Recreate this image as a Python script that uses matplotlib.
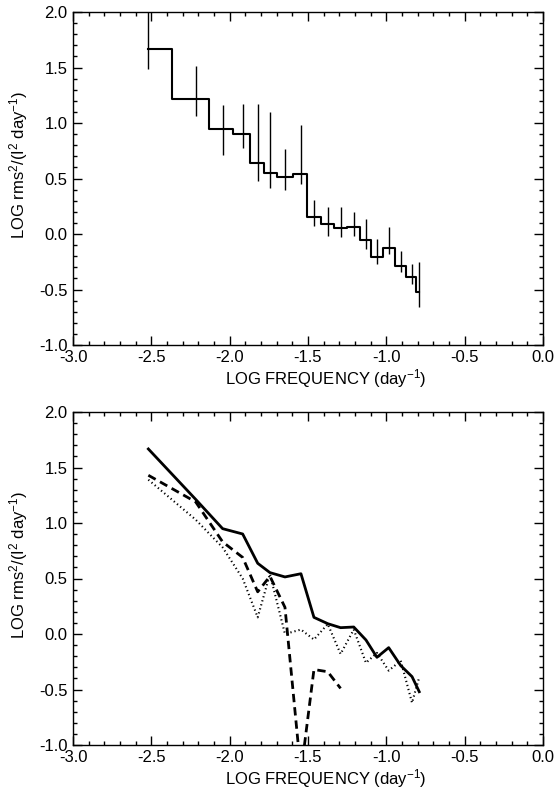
import matplotlib
matplotlib.use('Agg')
import matplotlib.pyplot as plt
from matplotlib.ticker import MultipleLocator
import numpy as np

plt.rcParams['font.family'] = ['Liberation Sans', 'DejaVu Sans']
plt.rcParams['mathtext.fontset'] = 'custom'
plt.rcParams['mathtext.rm'] = 'Liberation Sans'
plt.rcParams['mathtext.it'] = 'Liberation Sans:italic'
plt.rcParams['font.size'] = 12

# log frequency of each bin
log_f = [-2.519, -2.217, -2.045, -1.917, -1.821, -1.743, -1.647, -1.545, -1.462,
         -1.374, -1.292, -1.208, -1.130, -1.060, -0.985, -0.908, -0.836, -0.790]

# measured power (top panel step + bottom solid)
log_p = [1.667, 1.213, 0.949, 0.901, 0.637, 0.553, 0.514, 0.543, 0.150,
         0.093, 0.057, 0.063, -0.054, -0.210, -0.123, -0.285, -0.384, -0.520]
err_hi = [2.10, 1.516, 1.159, 1.168, 1.168, 1.099, 0.768, 0.985, 0.306,
          0.240, 0.240, 0.195, 0.132, -0.048, 0.066, -0.156, -0.267, -0.255]
err_lo = [1.49, 1.063, 0.712, 0.772, 0.480, 0.417, 0.396, 0.448, 0.072,
          -0.015, -0.024, -0.018, -0.135, -0.273, -0.183, -0.342, -0.448, -0.658]

# model curves (bottom panel)
log_p_dash = [1.43, 1.19, 0.83, 0.69, 0.38, 0.52, 0.24, -1.25, -0.32, -0.34, -0.49]
log_p_dot = [1.39, 1.03, 0.78, 0.50, 0.15, 0.54, 0.00, 0.04, -0.05, 0.09, -0.18,
             0.04, -0.26, -0.17, -0.33, -0.24, -0.62, -0.39]

xlab = 'LOG FREQUENCY (day$^{-1}$)'
ylab = 'LOG rms$^2$/(I$^2$ day$^{-1}$)'

fig = plt.figure(figsize=(5.59, 7.89), dpi=100)
W, H = 559, 789
ax1 = fig.add_axes([73 / W, 1 - 345 / H, 470 / W, 333 / H])
ax2 = fig.add_axes([73 / W, 1 - 745 / H, 470 / W, 333 / H])


def style(ax):
    ax.set_xlim(-3.0, 0.0)
    ax.set_ylim(-1.0, 2.0)
    ax.xaxis.set_major_locator(MultipleLocator(0.5))
    ax.xaxis.set_minor_locator(MultipleLocator(0.1))
    ax.yaxis.set_major_locator(MultipleLocator(0.5))
    ax.yaxis.set_minor_locator(MultipleLocator(0.1))
    ax.xaxis.set_major_formatter(plt.FormatStrFormatter('%.1f'))
    ax.yaxis.set_major_formatter(plt.FormatStrFormatter('%.1f'))
    ax.tick_params(which='both', direction='in', top=True, right=True, width=1)
    ax.tick_params(which='major', length=6.5)
    ax.tick_params(which='minor', length=3.2)
    ax.tick_params(axis='x', pad=3.5)
    ax.tick_params(axis='y', pad=4)
    for s in ax.spines.values():
        s.set_linewidth(1)
    ax.set_xlabel(xlab)
    ax.xaxis.set_label_coords(0.538, -0.066)
    ax.set_ylabel(ylab)
    ax.yaxis.set_label_coords(-0.092, 0.54)


x = np.array(log_f)
y = np.array(log_p)

# top: binned power spectrum with error bars
ax1.step(x, y, where='mid', color='black', linewidth=1.5)
ax1.vlines(x, err_lo, err_hi, color='black', linewidth=1)
style(ax1)

# bottom: observed vs models
ax2.plot(x, y, color='black', linewidth=2)
ax2.plot(x[:len(log_p_dash)], log_p_dash, color='black', linewidth=2, linestyle=(0, (3, 1.8)))
ax2.plot(x, log_p_dot, color='black', linewidth=1.5, linestyle=(0, (0.6, 1.4)))
style(ax2)

fig.savefig('out.png', dpi=100)
